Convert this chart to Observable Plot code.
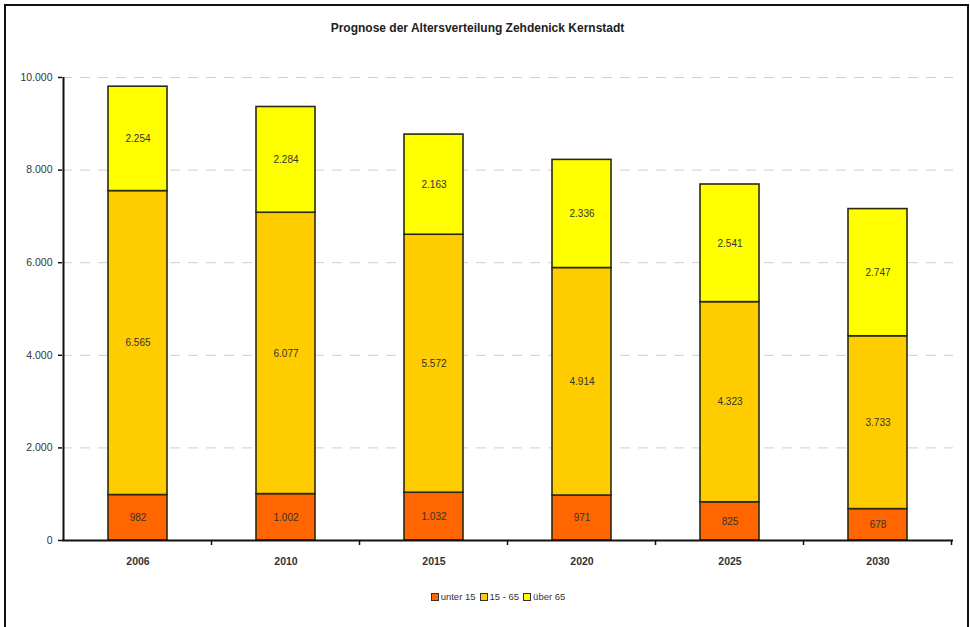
<!DOCTYPE html>
<html>
<head>
<meta charset="utf-8">
<script src="https://cdn.jsdelivr.net/npm/d3@7"></script>
<script src="https://cdn.jsdelivr.net/npm/@observablehq/plot@0.6"></script>
<style>
  html, body { margin: 0; padding: 0; background: #fff; overflow: hidden; width: 970px; height: 627px; }
  body { position: relative; font-family: "Liberation Sans", Arial, sans-serif; }
  #frame { position: absolute; left: 4px; top: 4px; width: 961px; height: 650px; border: 2px solid #111; }
  #title { position: absolute; left: 0; top: 21px; width: 955px; text-align: center; font-weight: bold; font-size: 12px; color: #222; }
  #chart { position: absolute; left: 0; top: 50px; }
  #legend { position: absolute; left: 0; top: 591px; width: 1000px; text-align: center; font-size: 9.5px; color: #333; }
  .item { display: inline-block; margin-right: 4px; }
  .sw { display: inline-block; width: 6px; height: 6px; border: 1px solid #333; margin-right: 2px; vertical-align: -1px; }
</style>
</head>
<body>
<div id="frame"></div>
<div id="title">Prognose der Altersverteilung Zehdenick Kernstadt</div>
<div id="chart"></div>
<div id="legend"></div>
<script>
const years = ["2006", "2010", "2015", "2020", "2025", "2030"];
const unter15 = [982, 1002, 1032, 971, 825, 678];
const mitte = [6565, 6077, 5572, 4914, 4323, 3733];
const ueber65 = [2254, 2284, 2163, 2336, 2541, 2747];
const groups = ["unter 15", "15 - 65", "über 65"];
const colors = ["#FF6600", "#FFCC00", "#FFFF00"];
const yTicks = [0, 2000, 4000, 6000, 8000, 10000];

const series = [unter15, mitte, ueber65];
const data = [];
years.forEach((yr, i) => {
  groups.forEach((g, j) => data.push({year: yr, group: g, value: series[j][i]}));
});

const fmt = d3.formatLocale({decimal: ",", thousands: ".", grouping: [3], currency: ["", "€"]}).format(",d");

const chart = Plot.plot({
  width: 970,
  height: 530,
  marginLeft: 62,
  marginRight: 17,
  marginTop: 27,
  marginBottom: 40,
  style: {fontFamily: "Liberation Sans, Arial, sans-serif", background: "transparent", overflow: "visible"},
  x: {domain: years, paddingInner: 0.6, paddingOuter: 0.3, label: null},
  y: {domain: [0, 10000], label: null},
  color: {domain: groups, range: colors},
  marks: [
    Plot.gridY(yTicks.slice(1), {stroke: "#cfcfcf", strokeOpacity: 1, strokeDasharray: "10,8", strokeWidth: 1}),
    Plot.barY(data, {x: "year", y: "value", fill: "group", stroke: "#2a2a10", strokeWidth: 1.6}),
    Plot.text(data, Plot.stackY({x: "year", y: "value", z: "group", text: d => fmt(d.value), fill: "#333", fontSize: 10})),
    Plot.axisY(yTicks, {tickFormat: fmt, tickSize: 4, tickPadding: 6, fontSize: 10.5, stroke: "#111", fill: "#333", strokeWidth: 1.5}),
    Plot.axisX({tickSize: 0, tickPadding: 17, fontSize: 10.5, fontWeight: "bold", fill: "#333"}),
    Plot.ruleY([0], {stroke: "#111", strokeWidth: 2})
  ]
});
document.getElementById("chart").appendChild(chart);

// y axis line and x boundary ticks, positioned via Plot's scales
const sx = chart.scale("x");
const sy = chart.scale("y");
const step = sx.apply(years[1]) - sx.apply(years[0]);
const bw = sx.bandwidth;
const y0 = sy.apply(0);
const yTop = sy.apply(10000);
const left = sx.apply(years[0]) - (step - bw) / 2;
const g = d3.select(chart).append("g");
g.append("line").attr("x1", left).attr("x2", left).attr("y1", yTop).attr("y2", y0 + 1)
  .attr("stroke", "#111").attr("stroke-width", 2);
for (let k = 1; k <= years.length; k++) {
  const xb = left + k * step;
  g.append("line").attr("x1", xb).attr("x2", xb).attr("y1", y0).attr("y2", y0 + 5)
    .attr("stroke", "#111").attr("stroke-width", 1.5);
}

// legend
const leg = document.getElementById("legend");
groups.forEach((grp, i) => {
  const s = document.createElement("span");
  s.className = "item";
  s.innerHTML = `<span class="sw" style="background:${colors[i]}"></span>${grp}`;
  leg.appendChild(s);
});
</script>
</body>
</html>
